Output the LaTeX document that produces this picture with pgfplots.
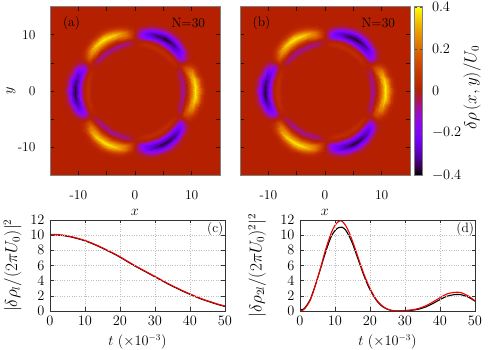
\documentclass[border=0pt]{standalone}
\usepackage{pgfplots}
\usepackage{pgfplotstable}
\pgfplotsset{compat=1.18}
\definecolor{zeroc}{rgb}{.707,.125,0}
\pgfplotsset{colormap={pmthreed}{rgb=(0,0,0) rgb=(.224,0,.309) rgb=(.316,.001,.588) rgb=(.387,.003,.809) rgb=(.447,.008,.951) rgb=(.5,.016,1) rgb=(.548,.027,.951) rgb=(.592,.043,.809) rgb=(.632,.064,.588) rgb=(.671,.091,.309) rgb=(.707,.125,0) rgb=(.742,.166,0) rgb=(.775,.216,0) rgb=(.806,.275,0) rgb=(.837,.343,0) rgb=(.866,.422,0) rgb=(.894,.512,0) rgb=(.922,.614,0) rgb=(.949,.729,0) rgb=(.975,.857,0) rgb=(1,1,0)}}
\pgfplotstableread[row sep=\\]{t r v\\
0 7 0\\0 7.5 .008\\0 8 -.04\\0 8.4 -.08\\0 8.8 -.035\\0 9.2 .02\\0 9.6 .11\\0 10.05 .24\\0 10.65 .38\\0 11.2 .28\\0 11.75 .12\\0 12.3 .025\\0 12.9 0\\
5 7 0\\5 7.5 .008\\5 8 -.04\\5 8.4 -.08\\5 8.8 -.035\\5 9.2 .02\\5 9.6 .115\\5 10.05 .245\\5 10.65 .375\\5 11.2 .26\\5 11.75 .1\\5 12.3 .02\\5 12.9 0\\
10 7 0\\10 7.5 .008\\10 8 -.04\\10 8.4 -.08\\10 8.8 -.035\\10 9.2 .025\\10 9.6 .125\\10 10.05 .26\\10 10.65 .35\\10 11.2 .22\\10 11.75 .07\\10 12.3 .012\\10 12.9 0\\
15 7 0\\15 7.5 .006\\15 8 -.035\\15 8.4 -.075\\15 8.8 -.04\\15 9.2 .03\\15 9.6 .14\\15 10.05 .26\\15 10.65 .29\\15 11.2 .15\\15 11.75 .04\\15 12.3 .005\\15 12.9 0\\
20 7 0\\20 7.5 .005\\20 8 -.03\\20 8.4 -.06\\20 8.8 -.04\\20 9.2 .04\\20 9.6 .15\\20 10.05 .23\\20 10.65 .21\\20 11.2 .09\\20 11.75 .02\\20 12.3 0\\20 12.9 0\\
25 7 0\\25 7.5 .002\\25 8 -.01\\25 8.4 -.03\\25 8.8 -.04\\25 9.2 .035\\25 9.6 .11\\25 10.05 .13\\25 10.65 .09\\25 11.2 .03\\25 11.75 .005\\25 12.3 0\\25 12.9 0\\
30 7 0\\30 7.5 0\\30 8 0\\30 8.4 0\\30 8.8 0\\30 9.2 0\\30 9.6 0\\30 10.05 0\\30 10.65 0\\30 11.2 0\\30 11.75 0\\30 12.3 0\\30 12.9 0\\
35 7 0\\35 7.5 -.001\\35 8 .01\\35 8.4 .02\\35 8.8 .01\\35 9.2 -.035\\35 9.6 -.115\\35 10.05 -.135\\35 10.65 -.09\\35 11.2 -.03\\35 11.75 -.005\\35 12.3 0\\35 12.9 0\\
40 7 0\\40 7.5 -.003\\40 8 .02\\40 8.4 .04\\40 8.8 .015\\40 9.2 -.04\\40 9.6 -.16\\40 10.05 -.23\\40 10.65 -.21\\40 11.2 -.09\\40 11.75 -.02\\40 12.3 0\\40 12.9 0\\
45 7 0\\45 7.5 -.004\\45 8 .02\\45 8.4 .045\\45 8.8 .02\\45 9.2 -.03\\45 9.6 -.15\\45 10.05 -.26\\45 10.65 -.29\\45 11.2 -.155\\45 11.75 -.04\\45 12.3 -.005\\45 12.9 0\\
50 7 0\\50 7.5 -.005\\50 8 .025\\50 8.4 .05\\50 8.8 .02\\50 9.2 -.025\\50 9.6 -.13\\50 10.05 -.27\\50 10.65 -.34\\50 11.2 -.22\\50 11.75 -.075\\50 12.3 -.012\\50 12.9 0\\
55 7 0\\55 7.5 -.005\\55 8 .025\\55 8.4 .05\\55 8.8 .02\\55 9.2 -.02\\55 9.6 -.12\\55 10.05 -.26\\55 10.65 -.37\\55 11.2 -.26\\55 11.75 -.1\\55 12.3 -.02\\55 12.9 0\\
60 7 0\\60 7.5 -.005\\60 8 .025\\60 8.4 .05\\60 8.8 .02\\60 9.2 -.02\\60 9.6 -.12\\60 10.05 -.26\\60 10.65 -.38\\60 11.2 -.28\\60 11.75 -.12\\60 12.3 -.025\\60 12.9 0\\
65 7 0\\65 7.5 -.005\\65 8 .025\\65 8.4 .05\\65 8.8 .02\\65 9.2 -.02\\65 9.6 -.12\\65 10.05 -.26\\65 10.65 -.37\\65 11.2 -.26\\65 11.75 -.1\\65 12.3 -.02\\65 12.9 0\\
70 7 0\\70 7.5 -.005\\70 8 .025\\70 8.4 .05\\70 8.8 .02\\70 9.2 -.025\\70 9.6 -.13\\70 10.05 -.27\\70 10.65 -.34\\70 11.2 -.22\\70 11.75 -.075\\70 12.3 -.012\\70 12.9 0\\
75 7 0\\75 7.5 -.004\\75 8 .02\\75 8.4 .045\\75 8.8 .02\\75 9.2 -.03\\75 9.6 -.15\\75 10.05 -.26\\75 10.65 -.29\\75 11.2 -.155\\75 11.75 -.04\\75 12.3 -.005\\75 12.9 0\\
80 7 0\\80 7.5 -.003\\80 8 .02\\80 8.4 .04\\80 8.8 .015\\80 9.2 -.04\\80 9.6 -.16\\80 10.05 -.23\\80 10.65 -.21\\80 11.2 -.09\\80 11.75 -.02\\80 12.3 0\\80 12.9 0\\
85 7 0\\85 7.5 -.001\\85 8 .01\\85 8.4 .02\\85 8.8 .01\\85 9.2 -.035\\85 9.6 -.115\\85 10.05 -.135\\85 10.65 -.09\\85 11.2 -.03\\85 11.75 -.005\\85 12.3 0\\85 12.9 0\\
90 7 0\\90 7.5 0\\90 8 0\\90 8.4 0\\90 8.8 0\\90 9.2 0\\90 9.6 0\\90 10.05 0\\90 10.65 0\\90 11.2 0\\90 11.75 0\\90 12.3 0\\90 12.9 0\\
95 7 0\\95 7.5 .002\\95 8 -.01\\95 8.4 -.03\\95 8.8 -.04\\95 9.2 .035\\95 9.6 .11\\95 10.05 .13\\95 10.65 .09\\95 11.2 .03\\95 11.75 .005\\95 12.3 0\\95 12.9 0\\
100 7 0\\100 7.5 .005\\100 8 -.03\\100 8.4 -.06\\100 8.8 -.04\\100 9.2 .04\\100 9.6 .15\\100 10.05 .23\\100 10.65 .21\\100 11.2 .09\\100 11.75 .02\\100 12.3 0\\100 12.9 0\\
105 7 0\\105 7.5 .006\\105 8 -.035\\105 8.4 -.075\\105 8.8 -.04\\105 9.2 .03\\105 9.6 .14\\105 10.05 .26\\105 10.65 .29\\105 11.2 .15\\105 11.75 .04\\105 12.3 .005\\105 12.9 0\\
110 7 0\\110 7.5 .008\\110 8 -.04\\110 8.4 -.08\\110 8.8 -.035\\110 9.2 .025\\110 9.6 .125\\110 10.05 .26\\110 10.65 .35\\110 11.2 .22\\110 11.75 .07\\110 12.3 .012\\110 12.9 0\\
115 7 0\\115 7.5 .008\\115 8 -.04\\115 8.4 -.08\\115 8.8 -.035\\115 9.2 .02\\115 9.6 .115\\115 10.05 .245\\115 10.65 .375\\115 11.2 .26\\115 11.75 .1\\115 12.3 .02\\115 12.9 0\\
120 7 0\\120 7.5 .008\\120 8 -.04\\120 8.4 -.08\\120 8.8 -.035\\120 9.2 .02\\120 9.6 .11\\120 10.05 .24\\120 10.65 .38\\120 11.2 .28\\120 11.75 .12\\120 12.3 .025\\120 12.9 0\\
125 7 0\\125 7.5 .008\\125 8 -.04\\125 8.4 -.08\\125 8.8 -.035\\125 9.2 .02\\125 9.6 .115\\125 10.05 .245\\125 10.65 .375\\125 11.2 .26\\125 11.75 .1\\125 12.3 .02\\125 12.9 0\\
130 7 0\\130 7.5 .008\\130 8 -.04\\130 8.4 -.08\\130 8.8 -.035\\130 9.2 .025\\130 9.6 .125\\130 10.05 .26\\130 10.65 .35\\130 11.2 .22\\130 11.75 .07\\130 12.3 .012\\130 12.9 0\\
135 7 0\\135 7.5 .006\\135 8 -.035\\135 8.4 -.075\\135 8.8 -.04\\135 9.2 .03\\135 9.6 .14\\135 10.05 .26\\135 10.65 .29\\135 11.2 .15\\135 11.75 .04\\135 12.3 .005\\135 12.9 0\\
140 7 0\\140 7.5 .005\\140 8 -.03\\140 8.4 -.06\\140 8.8 -.04\\140 9.2 .04\\140 9.6 .15\\140 10.05 .23\\140 10.65 .21\\140 11.2 .09\\140 11.75 .02\\140 12.3 0\\140 12.9 0\\
145 7 0\\145 7.5 .002\\145 8 -.01\\145 8.4 -.03\\145 8.8 -.04\\145 9.2 .035\\145 9.6 .11\\145 10.05 .13\\145 10.65 .09\\145 11.2 .03\\145 11.75 .005\\145 12.3 0\\145 12.9 0\\
150 7 0\\150 7.5 0\\150 8 0\\150 8.4 0\\150 8.8 0\\150 9.2 0\\150 9.6 0\\150 10.05 0\\150 10.65 0\\150 11.2 0\\150 11.75 0\\150 12.3 0\\150 12.9 0\\
155 7 0\\155 7.5 -.001\\155 8 .01\\155 8.4 .02\\155 8.8 .01\\155 9.2 -.035\\155 9.6 -.115\\155 10.05 -.135\\155 10.65 -.09\\155 11.2 -.03\\155 11.75 -.005\\155 12.3 0\\155 12.9 0\\
160 7 0\\160 7.5 -.003\\160 8 .02\\160 8.4 .04\\160 8.8 .015\\160 9.2 -.04\\160 9.6 -.16\\160 10.05 -.23\\160 10.65 -.21\\160 11.2 -.09\\160 11.75 -.02\\160 12.3 0\\160 12.9 0\\
165 7 0\\165 7.5 -.004\\165 8 .02\\165 8.4 .045\\165 8.8 .02\\165 9.2 -.03\\165 9.6 -.15\\165 10.05 -.26\\165 10.65 -.29\\165 11.2 -.155\\165 11.75 -.04\\165 12.3 -.005\\165 12.9 0\\
170 7 0\\170 7.5 -.005\\170 8 .025\\170 8.4 .05\\170 8.8 .02\\170 9.2 -.025\\170 9.6 -.13\\170 10.05 -.27\\170 10.65 -.34\\170 11.2 -.22\\170 11.75 -.075\\170 12.3 -.012\\170 12.9 0\\
175 7 0\\175 7.5 -.005\\175 8 .025\\175 8.4 .05\\175 8.8 .02\\175 9.2 -.02\\175 9.6 -.12\\175 10.05 -.26\\175 10.65 -.37\\175 11.2 -.26\\175 11.75 -.1\\175 12.3 -.02\\175 12.9 0\\
180 7 0\\180 7.5 -.005\\180 8 .025\\180 8.4 .05\\180 8.8 .02\\180 9.2 -.02\\180 9.6 -.12\\180 10.05 -.26\\180 10.65 -.38\\180 11.2 -.28\\180 11.75 -.12\\180 12.3 -.025\\180 12.9 0\\
185 7 0\\185 7.5 -.005\\185 8 .025\\185 8.4 .05\\185 8.8 .02\\185 9.2 -.02\\185 9.6 -.12\\185 10.05 -.26\\185 10.65 -.37\\185 11.2 -.26\\185 11.75 -.1\\185 12.3 -.02\\185 12.9 0\\
190 7 0\\190 7.5 -.005\\190 8 .025\\190 8.4 .05\\190 8.8 .02\\190 9.2 -.025\\190 9.6 -.13\\190 10.05 -.27\\190 10.65 -.34\\190 11.2 -.22\\190 11.75 -.075\\190 12.3 -.012\\190 12.9 0\\
195 7 0\\195 7.5 -.004\\195 8 .02\\195 8.4 .045\\195 8.8 .02\\195 9.2 -.03\\195 9.6 -.15\\195 10.05 -.26\\195 10.65 -.29\\195 11.2 -.155\\195 11.75 -.04\\195 12.3 -.005\\195 12.9 0\\
200 7 0\\200 7.5 -.003\\200 8 .02\\200 8.4 .04\\200 8.8 .015\\200 9.2 -.04\\200 9.6 -.16\\200 10.05 -.23\\200 10.65 -.21\\200 11.2 -.09\\200 11.75 -.02\\200 12.3 0\\200 12.9 0\\
205 7 0\\205 7.5 -.001\\205 8 .01\\205 8.4 .02\\205 8.8 .01\\205 9.2 -.035\\205 9.6 -.115\\205 10.05 -.135\\205 10.65 -.09\\205 11.2 -.03\\205 11.75 -.005\\205 12.3 0\\205 12.9 0\\
210 7 0\\210 7.5 0\\210 8 0\\210 8.4 0\\210 8.8 0\\210 9.2 0\\210 9.6 0\\210 10.05 0\\210 10.65 0\\210 11.2 0\\210 11.75 0\\210 12.3 0\\210 12.9 0\\
215 7 0\\215 7.5 .002\\215 8 -.01\\215 8.4 -.03\\215 8.8 -.04\\215 9.2 .035\\215 9.6 .11\\215 10.05 .13\\215 10.65 .09\\215 11.2 .03\\215 11.75 .005\\215 12.3 0\\215 12.9 0\\
220 7 0\\220 7.5 .005\\220 8 -.03\\220 8.4 -.06\\220 8.8 -.04\\220 9.2 .04\\220 9.6 .15\\220 10.05 .23\\220 10.65 .21\\220 11.2 .09\\220 11.75 .02\\220 12.3 0\\220 12.9 0\\
225 7 0\\225 7.5 .006\\225 8 -.035\\225 8.4 -.075\\225 8.8 -.04\\225 9.2 .03\\225 9.6 .14\\225 10.05 .26\\225 10.65 .29\\225 11.2 .15\\225 11.75 .04\\225 12.3 .005\\225 12.9 0\\
230 7 0\\230 7.5 .008\\230 8 -.04\\230 8.4 -.08\\230 8.8 -.035\\230 9.2 .025\\230 9.6 .125\\230 10.05 .26\\230 10.65 .35\\230 11.2 .22\\230 11.75 .07\\230 12.3 .012\\230 12.9 0\\
235 7 0\\235 7.5 .008\\235 8 -.04\\235 8.4 -.08\\235 8.8 -.035\\235 9.2 .02\\235 9.6 .115\\235 10.05 .245\\235 10.65 .375\\235 11.2 .26\\235 11.75 .1\\235 12.3 .02\\235 12.9 0\\
240 7 0\\240 7.5 .008\\240 8 -.04\\240 8.4 -.08\\240 8.8 -.035\\240 9.2 .02\\240 9.6 .11\\240 10.05 .24\\240 10.65 .38\\240 11.2 .28\\240 11.75 .12\\240 12.3 .025\\240 12.9 0\\
245 7 0\\245 7.5 .008\\245 8 -.04\\245 8.4 -.08\\245 8.8 -.035\\245 9.2 .02\\245 9.6 .115\\245 10.05 .245\\245 10.65 .375\\245 11.2 .26\\245 11.75 .1\\245 12.3 .02\\245 12.9 0\\
250 7 0\\250 7.5 .008\\250 8 -.04\\250 8.4 -.08\\250 8.8 -.035\\250 9.2 .025\\250 9.6 .125\\250 10.05 .26\\250 10.65 .35\\250 11.2 .22\\250 11.75 .07\\250 12.3 .012\\250 12.9 0\\
255 7 0\\255 7.5 .006\\255 8 -.035\\255 8.4 -.075\\255 8.8 -.04\\255 9.2 .03\\255 9.6 .14\\255 10.05 .26\\255 10.65 .29\\255 11.2 .15\\255 11.75 .04\\255 12.3 .005\\255 12.9 0\\
260 7 0\\260 7.5 .005\\260 8 -.03\\260 8.4 -.06\\260 8.8 -.04\\260 9.2 .04\\260 9.6 .15\\260 10.05 .23\\260 10.65 .21\\260 11.2 .09\\260 11.75 .02\\260 12.3 0\\260 12.9 0\\
265 7 0\\265 7.5 .002\\265 8 -.01\\265 8.4 -.03\\265 8.8 -.04\\265 9.2 .035\\265 9.6 .11\\265 10.05 .13\\265 10.65 .09\\265 11.2 .03\\265 11.75 .005\\265 12.3 0\\265 12.9 0\\
270 7 0\\270 7.5 0\\270 8 0\\270 8.4 0\\270 8.8 0\\270 9.2 0\\270 9.6 0\\270 10.05 0\\270 10.65 0\\270 11.2 0\\270 11.75 0\\270 12.3 0\\270 12.9 0\\
275 7 0\\275 7.5 -.001\\275 8 .01\\275 8.4 .02\\275 8.8 .01\\275 9.2 -.035\\275 9.6 -.115\\275 10.05 -.135\\275 10.65 -.09\\275 11.2 -.03\\275 11.75 -.005\\275 12.3 0\\275 12.9 0\\
280 7 0\\280 7.5 -.003\\280 8 .02\\280 8.4 .04\\280 8.8 .015\\280 9.2 -.04\\280 9.6 -.16\\280 10.05 -.23\\280 10.65 -.21\\280 11.2 -.09\\280 11.75 -.02\\280 12.3 0\\280 12.9 0\\
285 7 0\\285 7.5 -.004\\285 8 .02\\285 8.4 .045\\285 8.8 .02\\285 9.2 -.03\\285 9.6 -.15\\285 10.05 -.26\\285 10.65 -.29\\285 11.2 -.155\\285 11.75 -.04\\285 12.3 -.005\\285 12.9 0\\
290 7 0\\290 7.5 -.005\\290 8 .025\\290 8.4 .05\\290 8.8 .02\\290 9.2 -.025\\290 9.6 -.13\\290 10.05 -.27\\290 10.65 -.34\\290 11.2 -.22\\290 11.75 -.075\\290 12.3 -.012\\290 12.9 0\\
295 7 0\\295 7.5 -.005\\295 8 .025\\295 8.4 .05\\295 8.8 .02\\295 9.2 -.02\\295 9.6 -.12\\295 10.05 -.26\\295 10.65 -.37\\295 11.2 -.26\\295 11.75 -.1\\295 12.3 -.02\\295 12.9 0\\
300 7 0\\300 7.5 -.005\\300 8 .025\\300 8.4 .05\\300 8.8 .02\\300 9.2 -.02\\300 9.6 -.12\\300 10.05 -.26\\300 10.65 -.38\\300 11.2 -.28\\300 11.75 -.12\\300 12.3 -.025\\300 12.9 0\\
305 7 0\\305 7.5 -.005\\305 8 .025\\305 8.4 .05\\305 8.8 .02\\305 9.2 -.02\\305 9.6 -.12\\305 10.05 -.26\\305 10.65 -.37\\305 11.2 -.26\\305 11.75 -.1\\305 12.3 -.02\\305 12.9 0\\
310 7 0\\310 7.5 -.005\\310 8 .025\\310 8.4 .05\\310 8.8 .02\\310 9.2 -.025\\310 9.6 -.13\\310 10.05 -.27\\310 10.65 -.34\\310 11.2 -.22\\310 11.75 -.075\\310 12.3 -.012\\310 12.9 0\\
315 7 0\\315 7.5 -.004\\315 8 .02\\315 8.4 .045\\315 8.8 .02\\315 9.2 -.03\\315 9.6 -.15\\315 10.05 -.26\\315 10.65 -.29\\315 11.2 -.155\\315 11.75 -.04\\315 12.3 -.005\\315 12.9 0\\
320 7 0\\320 7.5 -.003\\320 8 .02\\320 8.4 .04\\320 8.8 .015\\320 9.2 -.04\\320 9.6 -.16\\320 10.05 -.23\\320 10.65 -.21\\320 11.2 -.09\\320 11.75 -.02\\320 12.3 0\\320 12.9 0\\
325 7 0\\325 7.5 -.001\\325 8 .01\\325 8.4 .02\\325 8.8 .01\\325 9.2 -.035\\325 9.6 -.115\\325 10.05 -.135\\325 10.65 -.09\\325 11.2 -.03\\325 11.75 -.005\\325 12.3 0\\325 12.9 0\\
330 7 0\\330 7.5 0\\330 8 0\\330 8.4 0\\330 8.8 0\\330 9.2 0\\330 9.6 0\\330 10.05 0\\330 10.65 0\\330 11.2 0\\330 11.75 0\\330 12.3 0\\330 12.9 0\\
335 7 0\\335 7.5 .002\\335 8 -.01\\335 8.4 -.03\\335 8.8 -.04\\335 9.2 .035\\335 9.6 .11\\335 10.05 .13\\335 10.65 .09\\335 11.2 .03\\335 11.75 .005\\335 12.3 0\\335 12.9 0\\
340 7 0\\340 7.5 .005\\340 8 -.03\\340 8.4 -.06\\340 8.8 -.04\\340 9.2 .04\\340 9.6 .15\\340 10.05 .23\\340 10.65 .21\\340 11.2 .09\\340 11.75 .02\\340 12.3 0\\340 12.9 0\\
345 7 0\\345 7.5 .006\\345 8 -.035\\345 8.4 -.075\\345 8.8 -.04\\345 9.2 .03\\345 9.6 .14\\345 10.05 .26\\345 10.65 .29\\345 11.2 .15\\345 11.75 .04\\345 12.3 .005\\345 12.9 0\\
350 7 0\\350 7.5 .008\\350 8 -.04\\350 8.4 -.08\\350 8.8 -.035\\350 9.2 .025\\350 9.6 .125\\350 10.05 .26\\350 10.65 .35\\350 11.2 .22\\350 11.75 .07\\350 12.3 .012\\350 12.9 0\\
355 7 0\\355 7.5 .008\\355 8 -.04\\355 8.4 -.08\\355 8.8 -.035\\355 9.2 .02\\355 9.6 .115\\355 10.05 .245\\355 10.65 .375\\355 11.2 .26\\355 11.75 .1\\355 12.3 .02\\355 12.9 0\\
360 7 0\\360 7.5 .008\\360 8 -.04\\360 8.4 -.08\\360 8.8 -.035\\360 9.2 .02\\360 9.6 .11\\360 10.05 .24\\360 10.65 .38\\360 11.2 .28\\360 11.75 .12\\360 12.3 .025\\360 12.9 0\\
}\ringdata
\pgfplotsset{
  base/.style={scale only axis,axis on top,
    tick label style={font=\fontsize{13.5}{16}\selectfont},
    label style={font=\fontsize{13.5}{16}\selectfont},
    tick align=inside},
  heat/.style={base,width=170pt,height=168.3pt,xmin=-15,xmax=15,ymin=-15,ymax=15,
    axis background/.style={fill=zeroc},
    axis line style={gray,line width=.8pt},
    major tick length=4pt,
    tick style={black!75!zeroc,line width=.5pt},
    xtick={-10,-5,0,5,10},ytick={-10,-5,0,5,10},
    xticklabels={-10,,0,,10},yticklabels={-10,,0,,10},
    xticklabel style={yshift=-12pt},yticklabel style={xshift=-11pt},
    point meta min=-0.4,point meta max=0.4,
    xlabel={$x$},xlabel style={at={(axis description cs:0.5,-0.225)},anchor=center}},
  curve/.style={base,width=175pt,height=91pt,xmin=0,xmax=50,ymin=0,ymax=12,
    xtick={0,10,...,50},ytick={0,2,...,12},
    axis line style={black!80,line width=.6pt},
    major tick length=3.5pt,
    tick style={black!80,line width=.5pt},
    grid=major,grid style={dotted,gray!50,line width=.6pt},
    xticklabel style={yshift=-2pt},yticklabel style={xshift=-2pt},
    xlabel={$t\ (\times 10^{-3})$},xlabel style={at={(axis description cs:0.5,-0.34)},anchor=center}}
}
\begin{document}
\begin{tikzpicture}[x=1pt,y=1pt]
\path[use as bounding box] (0,0) rectangle (500,350);
\begin{axis}[heat,at={(50pt,175pt)},anchor=south west,
  ylabel={$y$},ylabel style={at={(axis description cs:-0.23,0.5)},anchor=center}]
\addplot[surf,shader=interp,mesh/rows=73,mesh/cols=13,point meta=\thisrow{v}] table[x expr=\thisrow{r}*cos(\thisrow{t}),y expr=\thisrow{r}*sin(\thisrow{t})] {\ringdata};
\node[font=\fontsize{13.5}{16}\selectfont] at (axis cs:-11.2,12) {(a)};
\node[font=\fontsize{13.5}{16}\selectfont] at (axis cs:9.4,12) {N=30};
\end{axis}
\begin{axis}[heat,at={(240pt,175pt)},anchor=south west,yticklabels={},
  colorbar,colorbar style={at={(1.024,1)},anchor=north west,width=8.4pt,
    ytick={-0.4,-0.2,0,0.2,0.4},yticklabels={$-0.4$,$-0.2$,$0$,$0.2$,$0.4$},
    yticklabel style={font=\fontsize{13.5}{16}\selectfont,xshift=6pt},
    major tick length=2.5pt,tick style={black!70},axis line style={gray,line width=.8pt}}]
\addplot[surf,shader=interp,mesh/rows=73,mesh/cols=13,point meta=\thisrow{v}] table[x expr=\thisrow{r}*cos(\thisrow{t}),y expr=\thisrow{r}*sin(\thisrow{t})] {\ringdata};
\node[font=\fontsize{13.5}{16}\selectfont] at (axis cs:-11.2,12) {(b)};
\node[font=\fontsize{13.5}{16}\selectfont] at (axis cs:9.4,12) {N=30};
\end{axis}
\node[rotate=90,font=\fontsize{16}{18}\selectfont] at (472,262) {$\delta\rho\,(x,y)/U_0$};
\begin{axis}[curve,at={(50pt,39pt)},anchor=south west,
  ylabel={$|\delta\rho_{l}/(2\pi U_0)|^2$},ylabel style={font=\fontsize{16}{18}\selectfont,at={(axis description cs:-0.213,0.5)},anchor=center}]
\addplot[black,line width=1.1pt,smooth] coordinates {(0,10.03)(2,10.01)(4,9.93)(6,9.76)(8,9.53)(10,9.25)(12,8.9)(14,8.5)(16,8.05)(18,7.6)(20,7.1)(22,6.55)(24,6)(26,5.5)(28,5)(30,4.5)(32,4)(34,3.5)(36,3.05)(38,2.6)(40,2.2)(42,1.8)(44,1.45)(46,1.15)(48,.85)(50,.6)};
\addplot[red!95!black,line width=1.1pt] coordinates {(0,0)(0,10.1)(2,10.08)(4,10)(6,9.82)(8,9.58)(10,9.3)(12,8.95)(14,8.55)(16,8.1)(18,7.65)(20,7.15)(22,6.6)(24,6.05)(26,5.55)(28,5.05)(30,4.55)(32,4.05)(34,3.55)(36,3.1)(38,2.65)(40,2.25)(42,1.85)(44,1.5)(46,1.2)(48,.9)(50,.65)};
\node[font=\fontsize{13.5}{16}\selectfont] at (axis cs:47.2,10.8) {(c)};
\end{axis}
\begin{axis}[curve,at={(300pt,39pt)},anchor=south west,
  ylabel={$|\delta\rho_{2l}/(2\pi U_0)^2|^2$},ylabel style={font=\fontsize{16}{18}\selectfont,at={(axis description cs:-0.245,0.5)},anchor=center}]
\addplot[black,line width=1.1pt,smooth] coordinates {(0,.15)(1,.25)(2,.8)(3,1.6)(4,2.9)(5,4.3)(6,5.8)(7,7.3)(8,8.7)(9,9.9)(10,10.6)(11,11)(12,11.05)(13,10.7)(14,9.9)(15,8.9)(16,7.6)(17,6.3)(18,5)(19,3.8)(20,2.8)(21,2)(22,1.3)(23,.8)(24,.45)(25,.22)(26,.08)(27,.02)(28,0)(30,.03)(32,.1)(34,.25)(36,.55)(38,1)(40,1.5)(42,1.95)(44,2.15)(45,2.18)(46,2.15)(48,1.85)(50,1.3)};
\addplot[red!95!black,line width=1.1pt,smooth] coordinates {(0,0)(1,.15)(2,.7)(3,1.5)(4,2.8)(5,4.3)(6,5.9)(7,7.6)(8,9.1)(9,10.4)(10,11.3)(11,11.8)(11.5,11.9)(12,11.85)(13,11.3)(14,10.4)(15,9.2)(16,7.9)(17,6.5)(18,5.2)(19,4)(20,3)(21,2.1)(22,1.4)(23,.9)(24,.5)(25,.25)(26,.1)(27,.03)(28,.02)(30,.07)(32,.15)(34,.35)(36,.7)(38,1.2)(40,1.75)(42,2.25)(44,2.45)(45,2.48)(46,2.42)(48,2)(50,1.35)};
\node[font=\fontsize{13.5}{16}\selectfont] at (axis cs:47.2,10.8) {(d)};
\end{axis}
\end{tikzpicture}
\end{document}
